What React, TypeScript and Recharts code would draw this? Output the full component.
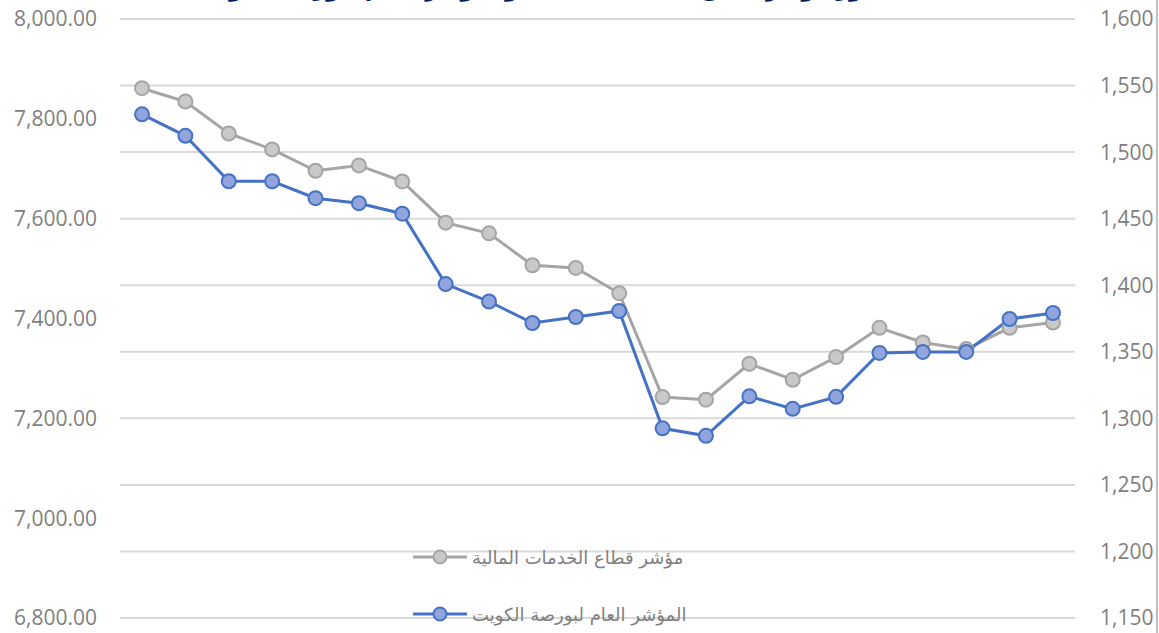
import React from "react";
import { LineChart, Line, XAxis, YAxis, CartesianGrid, Legend } from "recharts";

const categories = ["1","2","3","4","5","6","7","8","9","10","11","12","13","14","15","16","17","18","19","20","21","22"];
const financialSector = [1548, 1538, 1514, 1502, 1486, 1490, 1478, 1447, 1439, 1415, 1413, 1394, 1316, 1314, 1341, 1329, 1346, 1368, 1357, 1352, 1368, 1372];
const generalIndex = [7809, 7766, 7675, 7675, 7641, 7631, 7610, 7469, 7434, 7391, 7403, 7415, 7180, 7165, 7244, 7219, 7243, 7331, 7333, 7333, 7399, 7411];
const leftTicks = [6800, 7000, 7200, 7400, 7600, 7800, 8000];
const rightTicks = [1150, 1200, 1250, 1300, 1350, 1400, 1450, 1500, 1550, 1600];
const seriesNames = ["مؤشر قطاع الخدمات المالية", "المؤشر العام لبورصة الكويت"];
const titleText = "تطور مؤشر قطاع الخدمات المالية والمؤشر العام لبورصة الكويت";

const data = categories.map((c, i) => ({ cat: c, fin: financialSector[i], gen: generalIndex[i] }));

const fmtLeft = (v: number) => v.toLocaleString("en-US", { minimumFractionDigits: 2, maximumFractionDigits: 2 });
const fmtRight = (v: number) => v.toLocaleString("en-US");

const LegendContent = (props: any) => {
  const payload = [...(props.payload || [])].sort((a: any, b: any) => (a.dataKey === "fin" ? -1 : 1) - (b.dataKey === "fin" ? -1 : 1));
  return (
    <div style={{ display: "flex", flexDirection: "column" }}>
      {payload.map((p: any, i: number) => {
        const isGray = p.dataKey === "fin";
        const stroke = isGray ? "#a5a5a5" : "#4472c4";
        const fill = isGray ? "#c9c9c9" : "#91a5dc";
        return (
          <div key={i} style={{ display: "flex", alignItems: "center", height: 24, marginBottom: i === 0 ? 33 : 0 }}>
            <svg width={56} height={18} style={{ display: "block" }}>
              <line x1={0} y1={9} x2={54} y2={9} stroke={stroke} strokeWidth={3} />
              <circle cx={27} cy={9} r={6.5} fill={fill} stroke={stroke} strokeWidth={2} />
            </svg>
            <span style={{ fontFamily: "'DejaVu Sans', sans-serif", fontSize: 18, color: "#7f7f7f", marginLeft: 3, direction: "rtl", whiteSpace: "nowrap" }}>
              {p.value}
            </span>
          </div>
        );
      })}
    </div>
  );
};

export default function App() {
  return (
    <div style={{ position: "absolute", left: 0, top: 0, width: 1159, height: 633, background: "#fff", overflow: "hidden" }}>
      <div style={{ position: "absolute", left: 0, width: 1090, top: -24, textAlign: "center", fontFamily: "'DejaVu Sans', sans-serif", fontWeight: "bold", fontSize: 22, color: "#002060", direction: "rtl", whiteSpace: "nowrap" }}>
        {titleText}
      </div>
      <div style={{ position: "absolute", right: 1, top: 0, width: 2, height: 633, background: "#bfbfbf" }} />
      <LineChart width={1159} height={633} data={data} margin={{ top: 19, right: 0, bottom: 15, left: 0 }}>
        <CartesianGrid yAxisId="right" vertical={false} stroke="#d9d9d9" strokeWidth={2} />
        <XAxis dataKey="cat" hide padding={{ left: 22, right: 22 }} />
        <YAxis
          yAxisId="left"
          orientation="left"
          width={120}
          domain={[6800, 8000]}
          ticks={leftTicks}
          tickFormatter={fmtLeft}
          axisLine={false}
          tickLine={false}
          tickSize={0}
          tickMargin={23}
          tick={{ fill: "#7f7f7f", fontSize: 21, fontFamily: "'Open Sans', sans-serif" }}
        />
        <YAxis
          yAxisId="right"
          orientation="right"
          width={84}
          domain={[1150, 1600]}
          ticks={rightTicks}
          tickFormatter={fmtRight}
          axisLine={false}
          tickLine={false}
          tickSize={0}
          tickMargin={25}
          tick={{ fill: "#7f7f7f", fontSize: 21, fontFamily: "'Open Sans', sans-serif", textAnchor: "start" }}
        />
        <Legend
          layout="vertical"
          verticalAlign="middle"
          align="center"
          content={<LegendContent />}
          wrapperStyle={{ position: "absolute", left: 413, top: 545, width: 340 }}
        />
        <Line
          yAxisId="right"
          dataKey="fin"
          name={seriesNames[0]}
          stroke="#a5a5a5"
          strokeWidth={3}
          dot={{ r: 7, fill: "#c9c9c9", stroke: "#a5a5a5", strokeWidth: 2 }}
          isAnimationActive={false}
        />
        <Line
          yAxisId="left"
          dataKey="gen"
          name={seriesNames[1]}
          stroke="#4472c4"
          strokeWidth={3}
          dot={{ r: 7, fill: "#91a5dc", stroke: "#4472c4", strokeWidth: 2 }}
          isAnimationActive={false}
        />
      </LineChart>
    </div>
  );
}
